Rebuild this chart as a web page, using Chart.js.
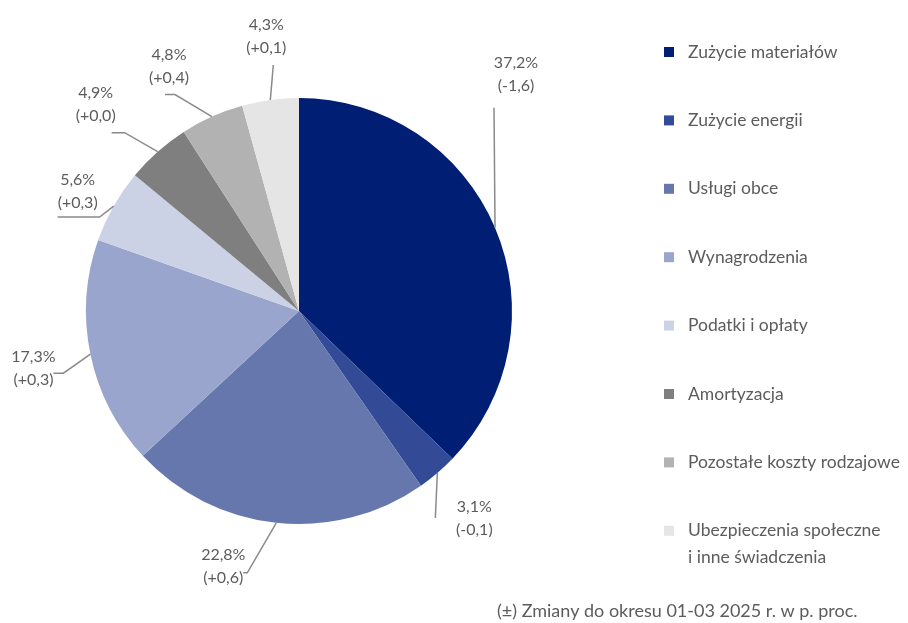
<!DOCTYPE html>
<html>
<head>
<meta charset="utf-8">
<script src="https://cdn.jsdelivr.net/npm/chart.js@4.4.1/dist/chart.umd.min.js"></script>
<style>
  html, body { margin: 0; padding: 0; background: #fff; }
  canvas { display: block; }
</style>
</head>
<body>
<canvas id="costChart" width="908" height="623"></canvas>
<script>
// dane
const categories = [
  'Zużycie materiałów',
  'Zużycie energii',
  'Usługi obce',
  'Wynagrodzenia',
  'Podatki i opłaty',
  'Amortyzacja',
  'Pozostałe koszty rodzajowe',
  'Ubezpieczenia społeczne\ni inne świadczenia'
];
const shares = [37.2, 3.1, 22.8, 17.3, 5.6, 4.9, 4.8, 4.3];
const changes = [-1.6, -0.1, 0.6, 0.3, 0.3, 0.0, 0.4, 0.1];
const footnote = 'Zmiany do okresu 01-03 2025 r. w p. proc.';

const colors = ['#001e73', '#334a97', '#6577ad', '#99a5cc', '#ccd2e6', '#7f7f7f', '#b2b2b2', '#e5e5e5'];
const textColor = '#5c5c5c';
const lineColor = '#8a8a8a';
const fontFamily = 'Lato, "Open Sans", sans-serif';

// polozenie etykiet: [elbowDx, elbowDy, tail, textDx, textDy] wzgledem brzegu wycinka
const labelLayout = [
  [-1, -120, 0, 22, -45],
  [-2, 45, 0, 39, -11],
  [-29, 50, -4, -24, -18],
  [-27, 19, -10, -30, -16],
  [-14, 11, -42, -22, -37],
  [-33, -19, -13, -29, -40],
  [-37, -22, -10, -6, -40],
  [3, -35, 0, -7, -40]
];

const fmt = (v, dec) => v.toFixed(dec).replace('.', ',');
const fmtChange = v => '(' + (v < 0 ? '-' : '+') + fmt(Math.abs(v), 1) + ')';

const pieLabels = {
  id: 'pieLabels',
  afterDraw(chart) {
    const ctx = chart.ctx;
    const meta = chart.getDatasetMeta(0);
    ctx.save();
    ctx.font = '16px ' + fontFamily;
    ctx.textAlign = 'center';
    ctx.textBaseline = 'middle';
    meta.data.forEach((arc, i) => {
      const mid = (arc.startAngle + arc.endAngle) / 2;
      const ex = arc.x + Math.cos(mid) * arc.outerRadius;
      const ey = arc.y + Math.sin(mid) * arc.outerRadius;
      const [dx, dy, tail, tx, ty] = labelLayout[i];
      const bx = ex + dx, by = ey + dy;
      ctx.strokeStyle = lineColor;
      ctx.lineWidth = 1.5;
      ctx.beginPath();
      ctx.moveTo(ex, ey);
      ctx.lineTo(bx, by);
      if (tail) ctx.lineTo(bx + tail, by);
      ctx.stroke();
      ctx.fillStyle = textColor;
      ctx.fillText(fmt(shares[i], 1) + '%', bx + tx, by + ty);
      ctx.fillText(fmtChange(changes[i]), bx + tx, by + ty + 23);
    });

    // legenda
    ctx.textAlign = 'left';
    ctx.font = '17.5px ' + fontFamily;
    categories.forEach((name, i) => {
      const y = 52 + i * 68.4;
      ctx.fillStyle = colors[i];
      ctx.fillRect(664, y - 5, 10, 10);
      ctx.fillStyle = textColor;
      name.split('\n').forEach((line, j) => {
        ctx.fillText(line, 688, y + j * 27);
      });
    });

    // przypis
    ctx.font = '18px ' + fontFamily;
    ctx.fillText('(±) ' + footnote, 497, 611);
    ctx.restore();
  }
};

new Chart(document.getElementById('costChart'), {
  type: 'pie',
  plugins: [pieLabels],
  data: {
    labels: categories,
    datasets: [{
      data: shares,
      backgroundColor: colors,
      borderWidth: 0
    }]
  },
  options: {
    responsive: false,
    animation: false,
    layout: { padding: { left: 86, right: 396, top: 98, bottom: 99 } },
    plugins: {
      legend: { display: false },
      tooltip: { enabled: false }
    }
  }
});
</script>
</body>
</html>
